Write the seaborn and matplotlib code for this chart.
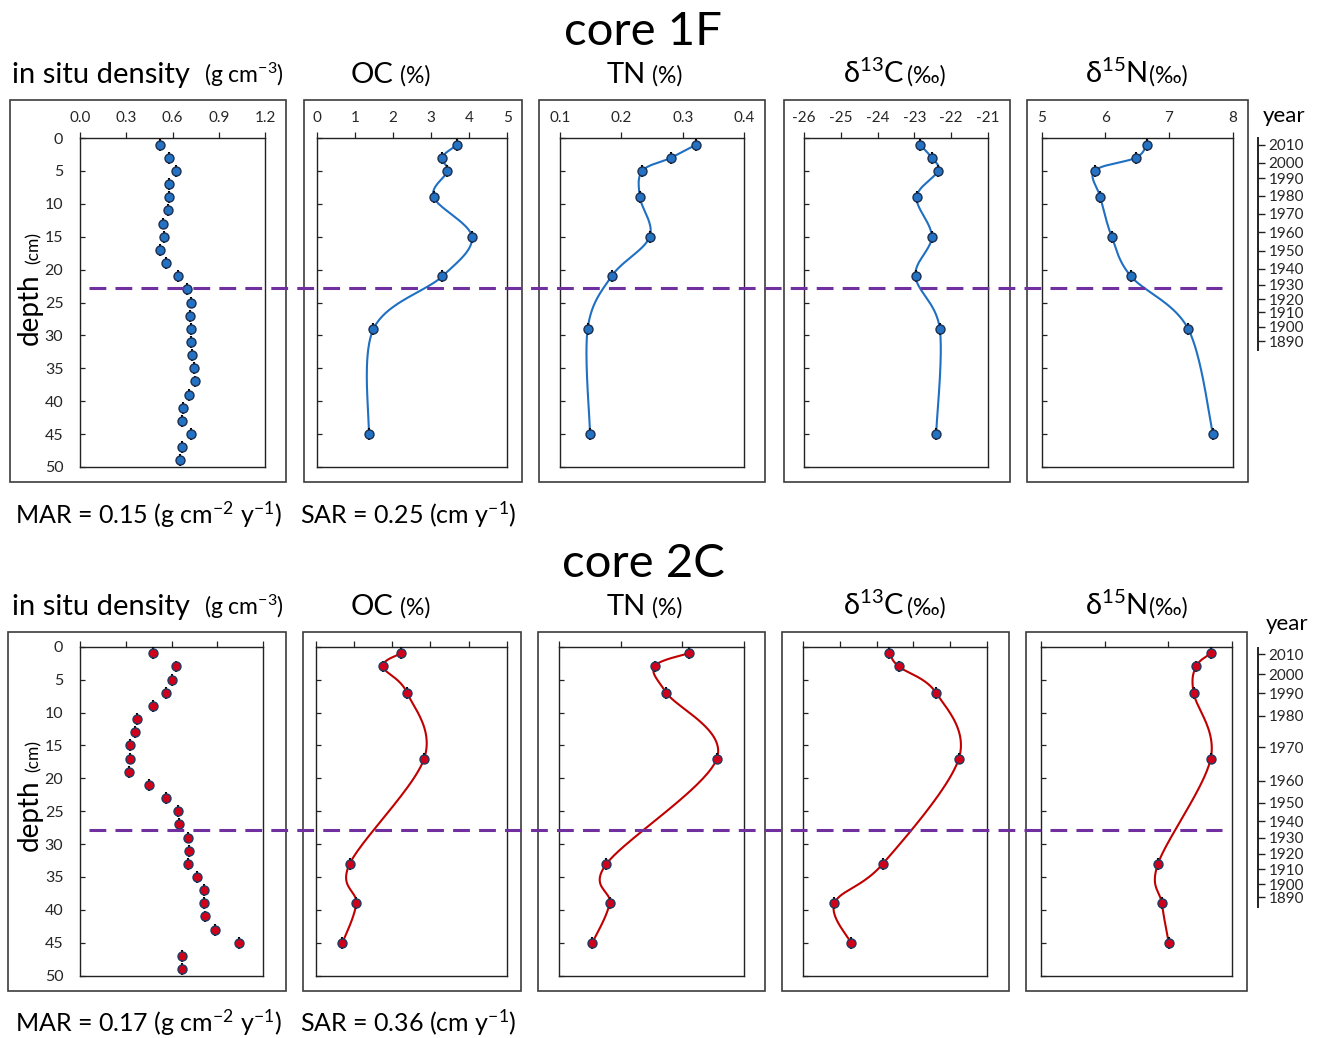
import numpy as np
import matplotlib
matplotlib.use("Agg")
import matplotlib.pyplot as plt
import matplotlib.transforms as mtransforms
from matplotlib.patches import Rectangle
from matplotlib.lines import Line2D
from matplotlib.ticker import FormatStrFormatter
import seaborn as sns

# ---------------- data ----------------
dens_depth = [1, 3, 5, 7, 9, 11, 13, 15, 17, 19, 21, 23, 25, 27, 29, 31, 33, 35, 37, 39, 41, 43, 45, 47, 49]
dens_1F = [0.52, 0.58, 0.62, 0.58, 0.58, 0.57, 0.54, 0.545, 0.52, 0.556, 0.634, 0.694, 0.718, 0.714, 0.718,
           0.722, 0.726, 0.739, 0.744, 0.705, 0.666, 0.664, 0.718, 0.659, 0.649]
dens_2C = [0.48, 0.628, 0.60, 0.561, 0.478, 0.377, 0.36, 0.33, 0.33, 0.323, 0.454, 0.567, 0.644, 0.65, 0.705,
           0.713, 0.711, 0.766, 0.816, 0.816, 0.818, 0.886, 1.043, 0.668, 0.672]

depth_1F = [1, 3, 5, 9, 15, 21, 29, 45]
oc_1F = [3.69, 3.28, 3.43, 3.07, 4.07, 3.30, 1.49, 1.37]
tn_1F = [0.322, 0.281, 0.234, 0.230, 0.246, 0.184, 0.145, 0.149]
d13c_1F = [-22.85, -22.53, -22.36, -22.94, -22.53, -22.97, -22.31, -22.41]
d15n_1F = [6.65, 6.48, 5.83, 5.92, 6.10, 6.40, 7.30, 7.69]

depth_2C = [1, 3, 7, 17, 33, 39, 45]
oc_2C = [2.23, 1.76, 2.39, 2.84, 0.89, 1.06, 0.70]
tn_2C = [0.310, 0.255, 0.274, 0.356, 0.177, 0.182, 0.154]
d13c_2C = [-23.65, -23.40, -22.39, -21.77, -23.83, -25.14, -24.69]
d15n_2C = [7.67, 7.44, 7.40, 7.67, 6.84, 6.90, 7.01]

depth_err = 0.9

years = [2010, 2000, 1990, 1980, 1970, 1960, 1950, 1940, 1930, 1920, 1910, 1900, 1890]
year_depth_1F = [1.06, 3.75, 6.13, 8.81, 11.55, 14.33, 17.1, 19.9, 22.3, 24.5, 26.5, 28.7, 30.9]
year_depth_2C = [1.11, 4.15, 7.09, 10.5, 15.3, 20.4, 23.7, 26.5, 29.0, 31.5, 33.8, 36.1, 38.1]
year_axis_span_1F = (0.0, 32.2)
year_axis_span_2C = (0.15, 39.5)

boundary_1F = 22.8
boundary_2C = 27.9

core_titles = ["core 1F", "core 2C"]
mar_texts = ["MAR = 0.15 (g cm$^{-2}$ y$^{-1}$)", "MAR = 0.17 (g cm$^{-2}$ y$^{-1}$)"]
sar_texts = ["SAR = 0.25 (cm y$^{-1}$)", "SAR = 0.36 (cm y$^{-1}$)"]

var_names = ["in situ density", "OC", "TN", "δ$^{13}$C", "δ$^{15}$N"]
var_units = ["(g cm$^{-3}$)", "(%)", "(%)", "(‰)", "(‰)"]
xlims = [(0, 1.2), (0, 5), (0.1, 0.4), (-26, -21), (5, 8)]
xticks = [[0.0, 0.3, 0.6, 0.9, 1.2], [0, 1, 2, 3, 4, 5], [0.1, 0.2, 0.3, 0.4],
          [-26, -25, -24, -23, -22, -21], [5, 6, 7, 8]]
xfmts = ["%.1f", "%d", "%.1f", "%d", "%d"]
depth_ticks = [0, 5, 10, 15, 20, 25, 30, 35, 40, 45, 50]

# ---------------- style ----------------
sns.set_style("white")
plt.rcParams["font.family"] = ["Lato", "DejaVu Sans"]
plt.rcParams["mathtext.fontset"] = "custom"
plt.rcParams["mathtext.rm"] = "Lato"
plt.rcParams["mathtext.it"] = "Lato:italic"
plt.rcParams["mathtext.bf"] = "Lato:bold"
plt.rcParams["mathtext.default"] = "regular"
plt.rcParams["axes.unicode_minus"] = False
plt.rcParams["text.color"] = "black"

W, H = 1318, 1038
fig = plt.figure(figsize=(W / 100, H / 100), dpi=100)
fig.patch.set_facecolor("white")


def fx(x):
    return x / W


def fy(y):
    return 1 - y / H


def add_axes_px(x0, x1, y0, y1):
    return fig.add_axes([fx(x0), fy(y1), (x1 - x0) / W, (y1 - y0) / H])


def smooth_curve(ax, xs, ys, n=40):
    """Excel-like smoothed line (Catmull-Rom Bezier) computed in display-proportional space."""
    x0, x1 = ax.get_xlim()
    y0, y1 = ax.get_ylim()
    pos = ax.get_position()
    Wp, Hp = pos.width * W, pos.height * H
    px = (np.asarray(xs, float) - x0) / (x1 - x0) * Wp
    py = (np.asarray(ys, float) - y0) / (y1 - y0) * Hp
    P = np.column_stack([px, py])
    Pe = np.vstack([P[0], P, P[-1]])
    t = np.linspace(0, 1, n)[:, None]
    segs = []
    for i in range(len(P) - 1):
        p0, p1, p2, p3 = Pe[i], Pe[i + 1], Pe[i + 2], Pe[i + 3]
        c1 = p1 + (p2 - p0) / 6
        c2 = p2 - (p3 - p1) / 6
        seg = (1 - t) ** 3 * p1 + 3 * (1 - t) ** 2 * t * c1 + 3 * (1 - t) * t ** 2 * c2 + t ** 3 * p2
        segs.append(seg if i == 0 else seg[1:])
    pts = np.vstack(segs)
    return pts[:, 0] / Wp * (x1 - x0) + x0, pts[:, 1] / Hp * (y1 - y0) + y0


# layout (pixels)
rows = [
    dict(frames=[(10, 286), (304, 522), (539, 765), (784, 1010), (1027, 1248)], fy0=100, fy1=482,
         axes=[(80, 265), (316.7, 507.3), (560, 744.3), (804, 988), (1041.7, 1232.7)], ay0=138, ay1=467,
         title_y=45, sub_y=83, text_y=524, depth_lbl=(309, 248), year_lbl=(1284, 122),
         tick_labels=True),
    dict(frames=[(8, 286), (303, 521), (538, 765), (782, 1009), (1026, 1247)], fy0=632, fy1=991,
         axes=[(80, 263), (315.7, 506.7), (559, 744), (802.7, 987.3), (1041, 1231.7)], ay0=646.7, ay1=975.7,
         title_y=577, sub_y=615, text_y=1032, depth_lbl=(815, 756), year_lbl=(1287, 630),
         tick_labels=False),
]
sub_x = [(12, 204), (351, 400), (607, 652), (843, 907), (1085, 1149)]

core_data = [
    dict(dens=dens_1F, depth=depth_1F, vals=[oc_1F, tn_1F, d13c_1F, d15n_1F],
         fill="#2472C4", edge="#1c2f4f", line="#1F6FC2", boundary=boundary_1F,
         ydepth=year_depth_1F, yspan=year_axis_span_1F),
    dict(dens=dens_2C, depth=depth_2C, vals=[oc_2C, tn_2C, d13c_2C, d15n_2C],
         fill="#D0021B", edge="#1F3A60", line="#C00000", boundary=boundary_2C,
         ydepth=year_depth_2C, yspan=year_axis_span_2C),
]

for r, (lay, cd) in enumerate(zip(rows, core_data)):
    # core title
    fig.text(fx(643), fy(lay["title_y"]), core_titles[r], fontsize=34, ha="center", va="baseline")
    # frames
    for (x0, x1) in lay["frames"]:
        fig.add_artist(Rectangle((fx(x0), fy(lay["fy1"])), (x1 - x0) / W, (lay["fy1"] - lay["fy0"]) / H,
                                 transform=fig.transFigure, fill=False, ec="#3c3c3c", lw=1.2))
    # subtitles
    for k in range(5):
        fig.text(fx(sub_x[k][0]), fy(lay["sub_y"]), var_names[k], fontsize=21, ha="left", va="baseline")
        fig.text(fx(sub_x[k][1]), fy(lay["sub_y"]), var_units[k], fontsize=16.5, ha="left", va="baseline")

    axes = []
    for k, (x0, x1) in enumerate(lay["axes"]):
        ax = add_axes_px(x0, x1, lay["ay0"], lay["ay1"])
        ax.set_facecolor("none")
        ax.set_xlim(*xlims[k])
        ax.set_ylim(50, 0)
        for sp in ax.spines.values():
            sp.set_visible(True)
            sp.set_color("#222222")
            sp.set_linewidth(1.0)
        ax.xaxis.tick_top()
        ax.set_xticks(xticks[k])
        ax.xaxis.set_major_formatter(FormatStrFormatter(xfmts[k]))
        ax.tick_params(axis="x", which="both", direction="out", length=4, width=0.9, pad=5,
                       labelsize=11, top=True, bottom=False, labeltop=lay["tick_labels"], labelbottom=False,
                       color="#222222")
        ax.set_yticks(depth_ticks)
        ax.tick_params(axis="y", direction="in", length=3.6, width=0.9, pad=12, labelsize=11.5,
                       left=True, right=False, labelleft=(k == 0), color="#222222")
        axes.append(ax)

    # density panel: points only
    ax = axes[0]
    ax.errorbar(cd["dens"], dens_depth, yerr=depth_err, fmt="none", ecolor="black", elinewidth=1.5,
                capsize=0, zorder=3)
    sns.scatterplot(x=cd["dens"], y=dens_depth, ax=ax, s=42, color=cd["fill"], edgecolor=cd["edge"],
                    linewidth=1.0, zorder=4, legend=False)

    # other panels: smoothed line + points
    for k in range(1, 5):
        ax = axes[k]
        vals = cd["vals"][k - 1]
        cx, cy = smooth_curve(ax, vals, cd["depth"])
        sns.lineplot(x=cx, y=cy, ax=ax, sort=False, estimator=None, color=cd["line"], lw=1.5, zorder=2,
                     legend=False)
        ax.errorbar(vals, cd["depth"], yerr=depth_err, fmt="none", ecolor="black", elinewidth=1.5,
                    capsize=0, zorder=3)
        sns.scatterplot(x=vals, y=cd["depth"], ax=ax, s=42, color=cd["fill"], edgecolor=cd["edge"],
                        linewidth=1.0, zorder=4, legend=False)

    for ax in axes:
        ax.set_xlabel("")
        ax.set_ylabel("")

    # depth label
    fig.text(fx(30), fy(lay["depth_lbl"][0]), "depth", fontsize=20, rotation=90, ha="center", va="center")
    fig.text(fx(34), fy(lay["depth_lbl"][1]), "(cm)", fontsize=12.5, rotation=90, ha="center", va="center")

    # boundary dashed line across panels
    trans = mtransforms.blended_transform_factory(fig.transFigure, axes[0].transData)
    fig.add_artist(Line2D([fx(89), fx(1222)], [cd["boundary"], cd["boundary"]], transform=trans,
                          color="#7030A0", lw=2.2, dashes=(5.5, 3.0), zorder=5))

    # year axis
    axy = add_axes_px(1248, 1258, lay["ay0"], lay["ay1"])
    axy.set_facecolor("none")
    axy.set_ylim(50, 0)
    axy.set_xticks([])
    for name, sp in axy.spines.items():
        sp.set_visible(name == "right")
    axy.spines["right"].set_color("#222222")
    axy.spines["right"].set_linewidth(1.4)
    axy.spines["right"].set_bounds(*cd["yspan"])
    axy.yaxis.tick_right()
    axy.set_yticks(cd["ydepth"])
    axy.set_yticklabels([str(y) for y in years])
    axy.tick_params(axis="y", direction="out", length=5, width=1.0, pad=2.5, labelsize=11,
                    right=True, left=False, labelright=True, labelleft=False, color="#222222")
    fig.text(fx(lay["year_lbl"][0]), fy(lay["year_lbl"][1]), "year", fontsize=16, ha="center", va="baseline")

    # MAR / SAR
    fig.text(fx(15), fy(lay["text_y"]), mar_texts[r], fontsize=18, ha="left", va="baseline")
    fig.text(fx(300), fy(lay["text_y"]), sar_texts[r], fontsize=18, ha="left", va="baseline")

fig.savefig("out.png", dpi=100, facecolor="white")
